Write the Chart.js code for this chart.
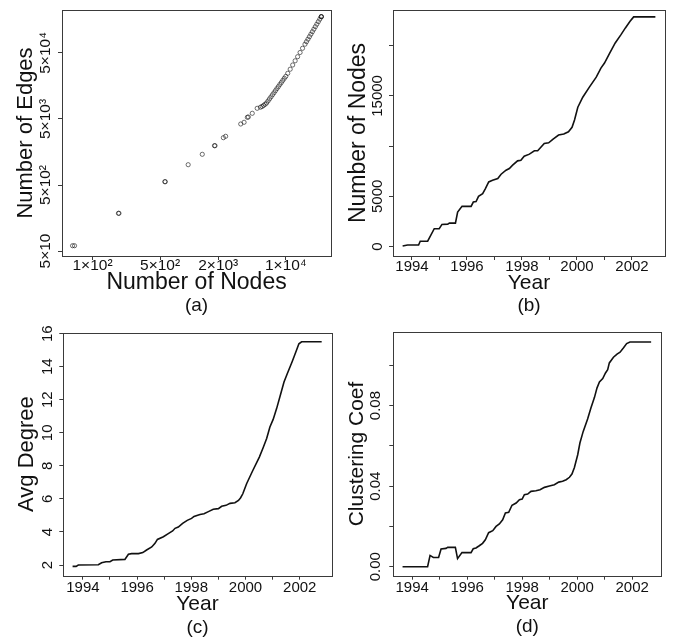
<!DOCTYPE html>
<html><head><meta charset="utf-8">
<script src="https://cdn.jsdelivr.net/npm/chart.js@4/dist/chart.umd.min.js"></script>
<style>
html,body{margin:0;padding:0;background:#fff;}
#wrap{position:relative;width:673px;height:638px;background:#fff;}
canvas{position:absolute;}
</style></head><body>
<div id="wrap">
<canvas id="ca" width="336" height="318" style="left:0;top:0;width:336px;height:318px"></canvas>
<canvas id="cb" width="337" height="318" style="left:336px;top:0;width:337px;height:318px"></canvas>
<canvas id="cc" width="336" height="320" style="left:0;top:318px;width:336px;height:320px"></canvas>
<canvas id="cd" width="337" height="320" style="left:336px;top:318px;width:337px;height:320px"></canvas>
</div>
<script>
const FONT = "'Liberation Sans', Arial, Helvetica, sans-serif";

// (a) Number of Edges vs Number of Nodes (log-log)
const nodesA = [62.1, 65.1, 185.5, 187.7, 559.8, 566, 977, 1367, 1829, 1851, 2260, 2386, 3417, 3702, 4000, 4095, 4499, 5059, 5468,
  5690, 5895, 6107, 6324, 6551, 6785, 7030, 7282, 7544, 7815, 8094, 8385, 8686, 8999, 9321, 9654, 10000,
  10480, 11110, 11790, 12500, 13260, 14060, 14910, 15810, 16380, 16970, 17580, 18200, 18860, 19540, 20230, 20960, 21710, 22490, 23300, 23300, 23300];
const edgesA = [60.1, 60.1, 186.3, 186.3, 561, 561, 1015, 1459, 1970, 1970, 2604, 2735, 4200, 4457, 5306, 5361, 6101, 7262, 7550,
  7734, 8036, 8350, 8738, 9370, 10080, 10810, 11630, 12470, 13420, 14440, 15480, 16660, 17870, 19220, 20690, 22110,
  24630, 28410, 32900, 38090, 43950, 50880, 58910, 67970, 74190, 80950, 88310, 96340, 105100, 114700, 125200, 136600, 149000, 162600, 177400, 177400, 177400];
const nodeTicksA = [100, 500, 2000, 10000];
const nodeTickLabelsA = ['1×10²', '5×10²', '2×10³', '1×10⁴'];
const edgeTicksA = [50, 500, 5000, 50000];
const edgeTickLabelsA = ['5×10', '5×10²', '5×10³', '5×10⁴'];

// (b) Number of Nodes over time
const yearsB = [1993.66, 1993.84, 1994.24, 1994.30, 1994.57, 1994.81, 1994.99, 1995.09, 1995.30, 1995.36, 1995.58, 1995.66, 1995.82, 1996.15, 1996.23, 1996.33, 1996.42, 1996.57, 1996.67, 1996.79, 1996.93, 1997.12, 1997.24, 1997.42, 1997.54, 1997.66, 1997.84, 1997.96, 1998.08, 1998.27, 1998.45, 1998.57, 1998.81, 1998.97, 1999.12, 1999.33, 1999.52, 1999.69, 1999.82, 1999.91, 2000.03, 2000.21, 2000.45, 2000.70, 2000.87, 2001.00, 2001.18, 2001.39, 2001.60, 2001.76, 2001.93, 2002.06, 2002.85];
const nodesB = [50, 150, 150, 530, 530, 1770, 1770, 2200, 2230, 2330, 2330, 3430, 4000, 4000, 4430, 4470, 5000, 5270, 5770, 6430, 6600, 6770, 7200, 7600, 7770, 8100, 8530, 8600, 9000, 9200, 9530, 9530, 10270, 10330, 10670, 11100, 11200, 11430, 11870, 12600, 13870, 14870, 15870, 16870, 17770, 18270, 19200, 20270, 21100, 21770, 22430, 22870, 22870];
const nodeTicksB = [0, 5000, 10000, 15000, 20000];
const nodeTickLabelsB = ['0', '5000', '', '15000', ''];

// (c) Average degree over time
const yearsC = [1993.62, 1993.75, 1993.83, 1994.57, 1994.69, 1994.85, 1995.00, 1995.10, 1995.55, 1995.68, 1995.80, 1996.05, 1996.21, 1996.35, 1996.54, 1996.66, 1996.75, 1996.97, 1997.15, 1997.31, 1997.40, 1997.52, 1997.68, 1997.85, 1998.01, 1998.10, 1998.32, 1998.47, 1998.63, 1998.81, 1999.00, 1999.12, 1999.28, 1999.43, 1999.61, 1999.74, 1999.82, 1999.90, 2000.04, 2000.26, 2000.51, 2000.65, 2000.78, 2000.90, 2001.02, 2001.15, 2001.30, 2001.42, 2001.54, 2001.72, 2001.86, 2001.97, 2002.07, 2002.81];
const degreeC = [1.92, 1.92, 2.0, 2.02, 2.14, 2.2, 2.2, 2.3, 2.34, 2.65, 2.69, 2.69, 2.75, 2.91, 3.09, 3.31, 3.55, 3.71, 3.9, 4.06, 4.22, 4.3, 4.52, 4.7, 4.82, 4.94, 5.06, 5.1, 5.23, 5.37, 5.41, 5.55, 5.61, 5.73, 5.77, 5.91, 6.07, 6.31, 6.92, 7.69, 8.53, 9.1, 9.66, 10.35, 10.81, 11.48, 12.36, 13.07, 13.57, 14.3, 14.9, 15.39, 15.51, 15.51];
const degTicksC = [2, 4, 6, 8, 10, 12, 14, 16];
const degTickLabelsC = ['2', '4', '6', '8', '10', '12', '14', '16'];

// (d) Clustering coefficient over time
const yearsD = [1993.65, 1994.56, 1994.65, 1994.77, 1994.96, 1995.05, 1995.23, 1995.29, 1995.57, 1995.65, 1995.81, 1996.14, 1996.22, 1996.32, 1996.44, 1996.56, 1996.66, 1996.78, 1996.93, 1997.05, 1997.17, 1997.29, 1997.39, 1997.51, 1997.63, 1997.78, 1997.90, 1998.00, 1998.08, 1998.20, 1998.32, 1998.50, 1998.65, 1998.81, 1998.99, 1999.17, 1999.33, 1999.47, 1999.60, 1999.72, 1999.81, 1999.90, 2000.02, 2000.10, 2000.22, 2000.38, 2000.50, 2000.63, 2000.72, 2000.81, 2000.93, 2001.03, 2001.11, 2001.17, 2001.32, 2001.45, 2001.56, 2001.68, 2001.80, 2001.92, 2002.69];
const clusterD = [0, 0, 0.0056, 0.0046, 0.0046, 0.0088, 0.0091, 0.0096, 0.0096, 0.0040, 0.0070, 0.0070, 0.0089, 0.0093, 0.0104, 0.0116, 0.0134, 0.0169, 0.0179, 0.0200, 0.0212, 0.0233, 0.0267, 0.0270, 0.0305, 0.0316, 0.0333, 0.0336, 0.0358, 0.0361, 0.0374, 0.0377, 0.0382, 0.0394, 0.0401, 0.0407, 0.0420, 0.0424, 0.0432, 0.0444, 0.0460, 0.0493, 0.0556, 0.0614, 0.0672, 0.0733, 0.0788, 0.0841, 0.0887, 0.0917, 0.0934, 0.0962, 0.0978, 0.1012, 0.1040, 0.1056, 0.1065, 0.1086, 0.1108, 0.1116, 0.1116];
const clusTicksD = [0, 0.02, 0.04, 0.06, 0.08, 0.10];
const clusTickLabelsD = ['0.00', '', '0.04', '', '0.08', ''];

// shared x ticks for time panels
const yearTicks = [1994, 1995, 1996, 1997, 1998, 1999, 2000, 2001, 2002];
const yearTickLabels = ['1994', '', '1996', '', '1998', '', '2000', '', '2002'];

const TICK_SIZE = 15, TAG_SIZE = 19, TICK_LEN = 4;
const INK = '#111', AXIS = '#3a3a3a';

function widest(labels, size) {
  const c = document.createElement('canvas').getContext('2d');
  c.font = size + 'px ' + FONT;
  return Math.max(...labels.map(l => c.measureText(l).width));
}
function pts(xs, ys) { return xs.map((x, i) => ({x: x, y: ys[i]})); }

const boxPlugin = {
  id: 'box',
  afterDraw(chart) {
    const {ctx, chartArea: a} = chart;
    ctx.save();
    ctx.strokeStyle = AXIS; ctx.lineWidth = 1;
    const l = Math.round(a.left) + 0.5, t = Math.round(a.top) + 0.5;
    ctx.strokeRect(l, t, Math.round(a.right) - Math.round(a.left), Math.round(a.bottom) - Math.round(a.top));
    ctx.restore();
  }
};

function xAxis(o) {
  const ts = o.tickSize || TICK_SIZE;
  return {
    type: o.type, min: o.min, max: o.max, position: 'bottom',
    afterBuildTicks: s => { s.ticks = o.ticks.map(v => ({value: v})); },
    afterFit: s => { s.height = o.height; s.paddingLeft = 0; s.paddingRight = 0; s.paddingTop = 0; s.paddingBottom = 0; },
    ticks: { autoSkip: false, minRotation: 0, maxRotation: 0, padding: o.pad - (ts - TICK_SIZE) * 0.6, color: INK,
      font: {family: FONT, size: ts}, callback: (v, i) => o.labels[i] },
    grid: { drawOnChartArea: false, drawTicks: true, tickLength: TICK_LEN, color: AXIS, tickColor: AXIS, tickWidth: 1 },
    border: { display: false },
    title: { display: true, text: o.title, color: INK, font: {family: FONT, size: o.titleSize, lineHeight: 1, weight: 'normal'},
      padding: {top: 0, bottom: o.titleCenter - o.titleSize / 2} }
  };
}
function yAxis(o) {
  const ts = o.tickSize || TICK_SIZE;
  const w = widest(o.labels, ts);
  return {
    type: o.type, min: o.min, max: o.max, position: 'left',
    afterBuildTicks: s => { s.ticks = o.ticks.map(v => ({value: v})); },
    afterFit: s => { s.width = o.width; s.paddingTop = 0; s.paddingBottom = 0; s.paddingLeft = 0; s.paddingRight = 0; },
    ticks: { autoSkip: false, minRotation: 90, maxRotation: 90, crossAlign: 'center',
      padding: o.labelOffset - TICK_LEN - w / 2, color: INK,
      font: {family: FONT, size: ts}, callback: (v, i) => o.labels[i] },
    grid: { drawOnChartArea: false, drawTicks: true, tickLength: TICK_LEN, color: AXIS, tickColor: AXIS, tickWidth: 1 },
    border: { display: false },
    title: { display: true, text: o.title, color: INK, font: {family: FONT, size: o.titleSize, lineHeight: 1, weight: 'normal'},
      padding: {top: o.titleCenter - o.titleSize / 2, bottom: 0} }
  };
}
function panel(id, p) {
  return new Chart(document.getElementById(id), {
    type: 'scatter',
    data: { datasets: [p.dataset] },
    options: {
      responsive: false, devicePixelRatio: 1, animation: false, events: [],
      layout: { padding: { left: 0, top: p.padTop, right: p.padRight, bottom: 0 } },
      plugins: {
        legend: {display: false}, tooltip: {enabled: false},
        title: { display: true, text: p.tag, position: 'bottom', fullSize: false, color: INK,
          font: {family: FONT, size: TAG_SIZE, lineHeight: 1, weight: 'normal'}, padding: {top: 0, bottom: p.tagPad} }
      },
      scales: { x: xAxis(p.x), y: yAxis(p.y) }
    },
    plugins: [boxPlugin]
  });
}
function lineSet(xs, ys) {
  return { data: pts(xs, ys), showLine: true, borderColor: INK, borderWidth: 1.6, pointRadius: 0, tension: 0, fill: false };
}

// titleCenter: distance from the outer edge of the axis block to the title's centre line
panel('ca', {
  padTop: 10, padRight: 1, tag: '(a)', tagPad: 2.5,
  dataset: { data: pts(nodesA, edgesA), showLine: false, pointStyle: 'circle', pointRadius: 2.1,
    pointBorderWidth: 0.9, pointBorderColor: 'rgba(20,20,20,0.68)', pointBackgroundColor: 'rgba(0,0,0,0)' },
  x: { type: 'logarithmic', min: 48.3, max: 29450, ticks: nodeTicksA, labels: nodeTickLabelsA, tickSize: 15.5,
    height: 40.5, pad: -3, title: 'Number of Nodes', titleSize: 23, titleCenter: 13.5 },
  y: { type: 'logarithmic', min: 42.0, max: 224100, ticks: edgeTicksA, labels: edgeTickLabelsA, tickSize: 15.5,
    width: 62, labelOffset: 16.5, title: 'Number of Edges', titleSize: 22, titleCenter: 26 }
});
panel('cb', {
  padTop: 10, padRight: 8, tag: '(b)', tagPad: 2.5,
  dataset: lineSet(yearsB, nodesB),
  x: { type: 'linear', min: 1993.31, max: 2003.2, ticks: yearTicks, labels: yearTickLabels,
    height: 40.5, pad: -2, title: 'Year', titleSize: 21, titleCenter: 13.5 },
  y: { type: 'linear', min: -946, max: 23556, ticks: nodeTicksB, labels: nodeTickLabelsB,
    width: 57, labelOffset: 15, title: 'Number of Nodes', titleSize: 23, titleCenter: 22.7 }
});
panel('cc', {
  padTop: 14.5, padRight: 4.3, tag: '(c)', tagPad: 1.2,
  dataset: lineSet(yearsC, degreeC),
  x: { type: 'linear', min: 1993.277, max: 2003.18, ticks: yearTicks, labels: yearTickLabels,
    height: 42.1, pad: -1.2, title: 'Year', titleSize: 21, titleCenter: 14 },
  y: { type: 'linear', min: 1.353, max: 16.07, ticks: degTicksC, labels: degTickLabelsC,
    width: 63.3, labelOffset: 15.8, title: 'Avg Degree', titleSize: 22, titleCenter: 27 }
});
panel('cd', {
  padTop: 14.3, padRight: 11.7, tag: '(d)', tagPad: 1.8,
  dataset: lineSet(yearsD, clusterD),
  x: { type: 'linear', min: 1993.313, max: 2003.06, ticks: yearTicks, labels: yearTickLabels,
    height: 41.5, pad: -0.7, title: 'Year', titleSize: 21, titleCenter: 14 },
  y: { type: 'linear', min: -0.00447, max: 0.1164, ticks: clusTicksD, labels: clusTickLabelsD,
    width: 57.3, labelOffset: 17.3, title: 'Clustering Coef', titleSize: 21, titleCenter: 21.7 }
});
</script>
</body></html>
